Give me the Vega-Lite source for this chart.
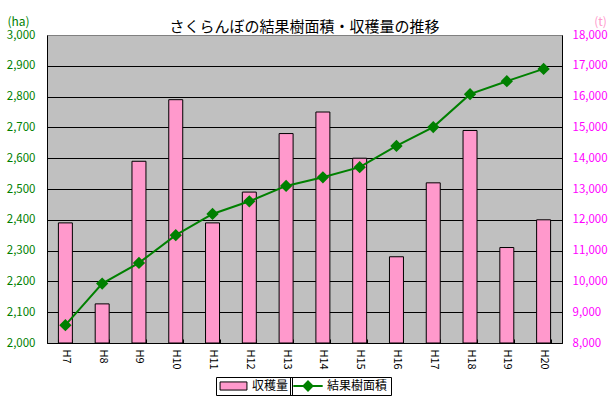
{
  "$schema": "https://vega.github.io/schema/vega-lite/v6.json",
  "autosize": "none",
  "width": 515,
  "height": 308,
  "padding": {"left": 47, "top": 35, "right": 52, "bottom": 56},
  "background": "white",
  "config": {
    "font": "Noto Sans CJK JP",
    "view": {"fill": "#C0C0C0", "stroke": "#808080", "strokeWidth": 1},
    "legend": {"labelFont": "Noto Sans CJK JP", "labelFontSize": 12, "labelColor": "black", "padding": 3, "symbolSize": 784, "labelOffset": 4, "clipHeight": 12, "title": null}
  },
  "title": {
    "text": "さくらんぼの結果樹面積・収穫量の推移",
    "fontSize": 15,
    "fontWeight": "normal",
    "color": "black",
    "anchor": "middle",
    "offset": -20,
    "font": "Noto Sans CJK JP"
  },
  "data": {
    "values": [
      {"year": "H7", "harvest": 11900, "area": 2058},
      {"year": "H8", "harvest": 9270, "area": 2193},
      {"year": "H9", "harvest": 13900, "area": 2260},
      {"year": "H10", "harvest": 15900, "area": 2350},
      {"year": "H11", "harvest": 11900, "area": 2419},
      {"year": "H12", "harvest": 12900, "area": 2460},
      {"year": "H13", "harvest": 14800, "area": 2510},
      {"year": "H14", "harvest": 15500, "area": 2538},
      {"year": "H15", "harvest": 14000, "area": 2571},
      {"year": "H16", "harvest": 10800, "area": 2640},
      {"year": "H17", "harvest": 13200, "area": 2701},
      {"year": "H18", "harvest": 14900, "area": 2808},
      {"year": "H19", "harvest": 11100, "area": 2850},
      {"year": "H20", "harvest": 12000, "area": 2890}
    ]
  },
  "encoding": {
    "x": {
      "field": "year",
      "type": "nominal",
      "sort": null,
      "scale": {"paddingInner": 0.62, "paddingOuter": 0.31},
      "axis": {
        "title": null,
        "labelAngle": 90,
        "labelFontSize": 11,
        "labelColor": "black",
        "tickBand": "extent",
        "tickSize": -4,
        "tickColor": "black",
        "domainColor": "black",
        "labelPadding": 10,
        "grid": false
      }
    }
  },
  "layer": [
    {
      "mark": {"type": "bar", "stroke": "black", "strokeWidth": 1},
      "encoding": {
        "y": {
          "field": "harvest",
          "type": "quantitative",
          "scale": {"domain": [8000, 18000], "zero": false, "nice": false},
          "axis": {
            "orient": "right",
            "values": [8000, 9000, 10000, 11000, 12000, 13000, 14000, 15000, 16000, 17000, 18000],
            "format": ",.0f",
            "labelColor": "#FF00FF",
            "labelFontSize": 11.5,
            "ticks": false,
            "labelPadding": 10,
            "grid": false,
            "domainColor": "black",
            "title": "(t)",
            "titleAngle": 0,
            "titleX": 38,
            "titleY": -14,
            "titleAlign": "center",
            "titleBaseline": "middle",
            "titleColor": "#FF99CC",
            "titleFontWeight": "normal",
            "titleFontSize": 12
          }
        },
        "y2": {"datum": 8000},
        "color": {
          "datum": "収穫量",
          "scale": {"domain": ["収穫量"], "range": ["#FF99CC"]},
          "legend": {
            "orient": "none",
            "legendX": 169,
            "legendY": 342,
            "strokeColor": "black",
            "symbolType": "M-0.96,-0.29H0.96V0.29H-0.96Z",
            "symbolFillColor": "#FF99CC",
            "symbolStrokeColor": "black",
            "symbolStrokeWidth": 1,
            "symbolOpacity": 1
          }
        }
      }
    },
    {
      "mark": {
        "type": "line",
        "strokeWidth": 2,
        "point": {"shape": "diamond", "size": 90, "filled": true, "fill": "#008000", "opacity": 1}
      },
      "encoding": {
        "y": {
          "field": "area",
          "type": "quantitative",
          "scale": {"domain": [2000, 3000], "zero": false, "nice": false},
          "axis": {
            "orient": "left",
            "values": [2000, 2100, 2200, 2300, 2400, 2500, 2600, 2700, 2800, 2900, 3000],
            "format": ",.0f",
            "labelColor": "#008000",
            "labelFontSize": 11.5,
            "ticks": false,
            "labelPadding": 12,
            "domainColor": "black",
            "grid": true,
            "gridColor": {"condition": {"test": "datum.value === 3000", "value": "#808080"}, "value": "black"},
            "gridOpacity": 1,
            "title": "(ha)",
            "titleAngle": 0,
            "titleX": -29,
            "titleY": -14,
            "titleAlign": "center",
            "titleBaseline": "middle",
            "titleColor": "#008000",
            "titleFontWeight": "normal",
            "titleFontSize": 12
          }
        },
        "stroke": {
          "datum": "結果樹面積",
          "scale": {"domain": ["結果樹面積"], "range": ["#008000"]},
          "legend": {
            "orient": "none",
            "legendX": 243,
            "legendY": 342,
            "strokeColor": "black",
            "symbolType": "M-1.05,0H1.05M0,-0.32L0.32,0L0,0.32L-0.32,0Z",
            "symbolFillColor": "#008000",
            "symbolStrokeColor": "#008000",
            "symbolStrokeWidth": 2,
            "symbolOpacity": 1
          }
        }
      }
    }
  ],
  "resolve": {"scale": {"y": "independent"}}
}
